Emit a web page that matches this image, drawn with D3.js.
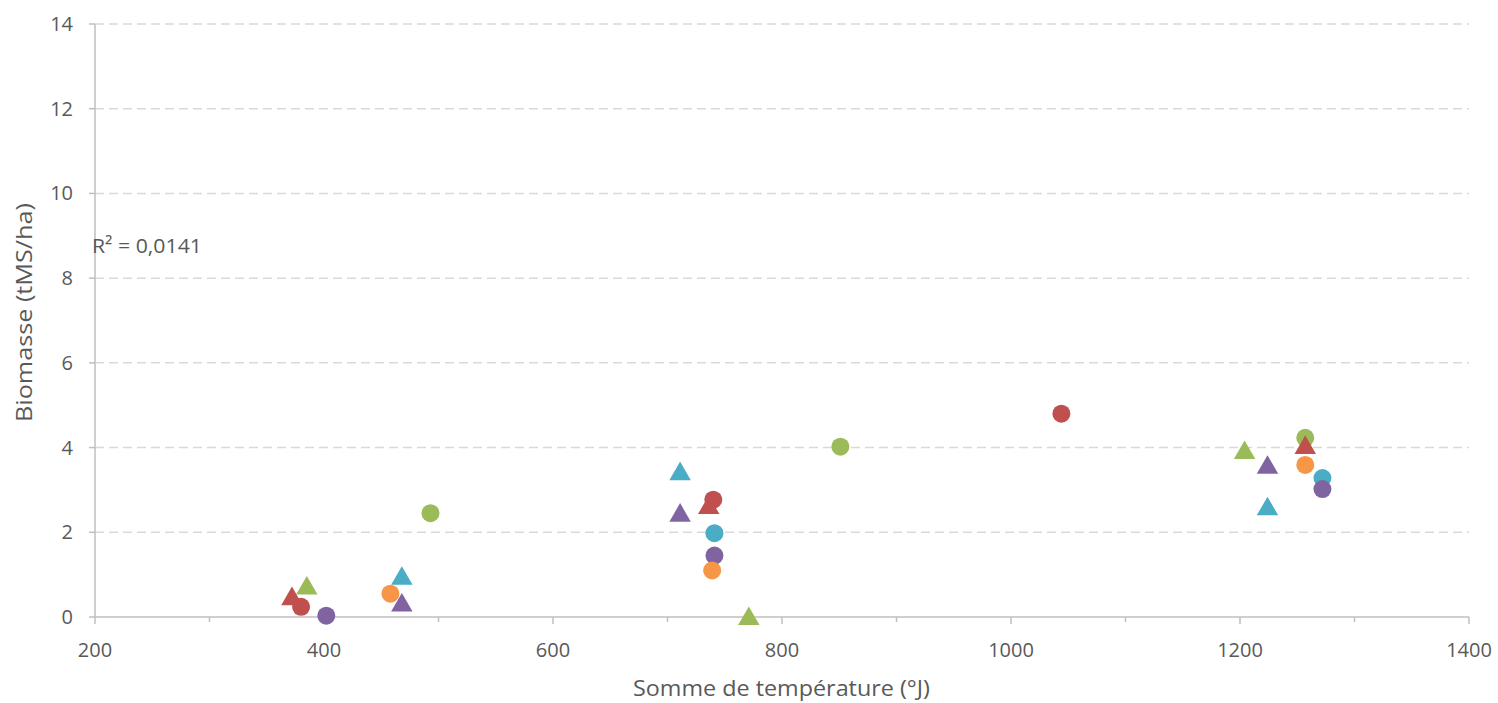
<!DOCTYPE html>
<html><head><meta charset="utf-8">
<script src="https://cdn.jsdelivr.net/npm/d3@7"></script>
<style>body{margin:0;background:#fff;} text{font-family:"Open Sans",sans-serif;fill:#595959;}</style>
</head><body><svg id="c" width="1498" height="703"></svg>
<script>
const xTicks = [200,400,600,800,1000,1200,1400];
const yTicks = [0,2,4,6,8,10,12,14];
const seriesNames = ["triCyan","triPurple","triGreen","circGreen","triRed","circRed","circCyan","circPurple","circOrange"];
const seriesColors = ["#4BACC6","#8064A2","#9BBB59","#9BBB59","#C0504D","#C0504D","#4BACC6","#8064A2","#F79646"];
const seriesShapes = ["tri","tri","tri","circ","tri","circ","circ","circ","circ"];
const triCyanX = [468,711,1224], triCyanY = [0.93,3.40,2.57];
const triPurpleX = [468,711,1224], triPurpleY = [0.30,2.42,3.55];
const triGreenX = [385,771,1204], triGreenY = [0.70,-0.02,3.90];
const circGreenX = [493,851,1257], circGreenY = [2.45,4.02,4.23];
const triRedX = [372,736,1257], triRedY = [0.45,2.60,4.02];
const circRedX = [380,740,1044], circRedY = [0.24,2.77,4.80];
const circCyanX = [741,1272], circCyanY = [1.98,3.28];
const circPurpleX = [402,741,1272], circPurpleY = [0.03,1.45,3.02];
const circOrangeX = [458,739,1257], circOrangeY = [0.55,1.10,3.59];
const seriesX = [triCyanX,triPurpleX,triGreenX,circGreenX,triRedX,circRedX,circCyanX,circPurpleX,circOrangeX];
const seriesY = [triCyanY,triPurpleY,triGreenY,circGreenY,triRedY,circRedY,circCyanY,circPurpleY,circOrangeY];
const r2Label = "R² = 0,0141";

const svg = d3.select("#c");
const x = d3.scaleLinear().domain([200,1400]).range([95,1469]);
const y = d3.scaleLinear().domain([0,14]).range([617,24]);

// gridlines
svg.append("g").selectAll("line").data(yTicks.filter(d=>d>0)).join("line")
  .attr("x1",95).attr("x2",1469).attr("y1",d=>y(d)).attr("y2",d=>y(d))
  .attr("stroke","#d9d9d9").attr("stroke-width",1.5).attr("stroke-dasharray","9,5");

// y axis
svg.append("line").attr("x1",95).attr("x2",95).attr("y1",y(14)).attr("y2",y(0)).attr("stroke","#bfbfbf").attr("stroke-width",1.5);
svg.append("g").selectAll("line").data(yTicks).join("line")
  .attr("x1",89).attr("x2",95).attr("y1",d=>y(d)).attr("y2",d=>y(d)).attr("stroke","#bfbfbf").attr("stroke-width",1.5);
svg.append("g").selectAll("text").data(yTicks).join("text")
  .attr("x",73).attr("y",d=>y(d)).attr("dy","0.35em").attr("text-anchor","end")
  .style("font-size","20px").text(d=>d);

// x axis
svg.append("line").attr("x1",95).attr("x2",1469).attr("y1",y(0)).attr("y2",y(0)).attr("stroke","#bfbfbf").attr("stroke-width",1.5);
const minor = d3.range(200,1401,100);
svg.append("g").selectAll("line").data(minor).join("line")
  .attr("x1",d=>x(d)).attr("x2",d=>x(d)).attr("y1",y(0)).attr("y2",d=> d%200===0?y(0)+7:y(0)+5)
  .attr("stroke","#bfbfbf").attr("stroke-width",1.5);
svg.append("g").selectAll("text").data(xTicks).join("text")
  .attr("x",d=>x(d)).attr("y",650).attr("dy","0.35em").attr("text-anchor","middle")
  .style("font-size","20px").text(d=>d);

// axis titles
svg.append("text").attr("x",633).attr("y",689).attr("dy","0.35em")
  .attr("textLength",297).attr("lengthAdjust","spacingAndGlyphs")
  .style("font-size","21px").text("Somme de température (°J)");
svg.append("text").attr("transform","translate(25,422) rotate(-90)").attr("dy","0.35em")
  .attr("textLength",219).attr("lengthAdjust","spacingAndGlyphs")
  .style("font-size","21px").text("Biomasse (tMS/ha)");

// R2
svg.append("text").attr("x",92).attr("y",246).attr("dy","0.35em")
  .attr("textLength",110).attr("lengthAdjust","spacingAndGlyphs")
  .style("font-size","20px").text(r2Label);

// points
const tri = d3.symbol().type(d3.symbolTriangle).size(200);
seriesNames.forEach((name,i)=>{
  const pts = seriesX[i].map((v,j)=>[v,seriesY[i][j]]);
  const g = svg.append("g").attr("class",name);
  if(seriesShapes[i]==="circ"){
    g.selectAll("circle").data(pts).join("circle")
      .attr("cx",d=>x(d[0])).attr("cy",d=>y(d[1])).attr("r",9)
      .attr("fill",seriesColors[i]);
  } else {
    g.selectAll("path").data(pts).join("path")
      .attr("d",tri).attr("transform",d=>`translate(${x(d[0])},${y(d[1])+1})`)
      .attr("fill",seriesColors[i]);
  }
});
</script></body></html>
